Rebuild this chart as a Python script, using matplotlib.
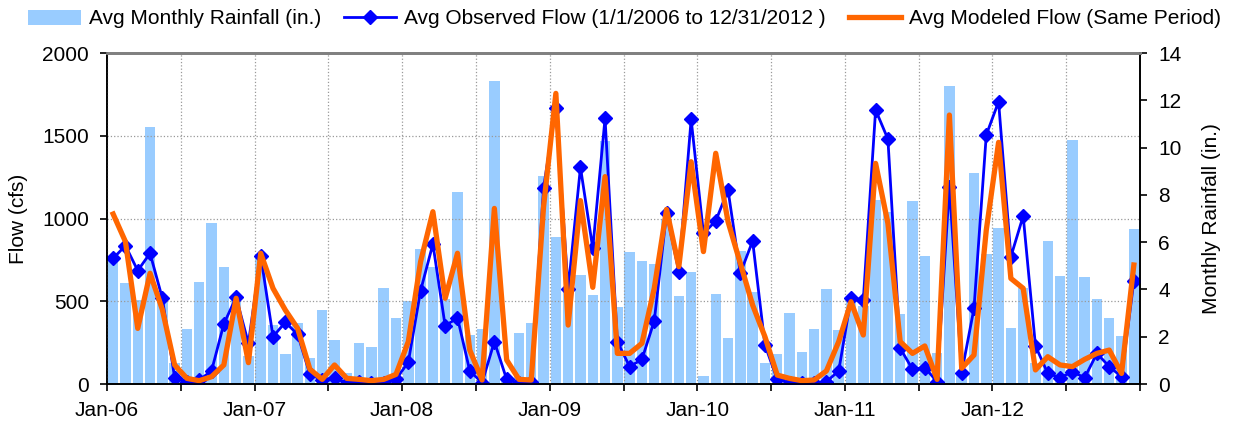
import numpy as np
import matplotlib
matplotlib.use("Agg")
from matplotlib import pyplot as plt

plt.rcParams['font.family'] = ['Liberation Sans', 'DejaVu Sans']

# monthly values, Jan 2006 .. Dec 2012
rain = [5.3, 4.27, 3.55, 10.87, 3.6, 0.9, 2.33, 4.33, 6.8, 4.96, 3.6, 1.2,
        5.45, 2.5, 1.26, 2.6, 1.09, 3.13, 1.86, 0.48, 1.72, 1.57, 4.06, 2.78,
        3.51, 5.7, 4.96, 3.6, 8.1, 2.07, 2.31, 12.82, 0.2, 2.15, 2.58, 8.81,
        6.22, 4.0, 4.6, 3.77, 10.28, 3.27, 5.6, 5.2, 5.08, 7.0, 3.72, 4.72,
        0.34, 3.79, 1.93, 5.64, 3.91, 0.9, 1.26, 3.02, 1.34, 2.31, 4.03, 2.28,
        3.5, 3.3, 7.78, 7.27, 2.96, 7.74, 5.43, 1.33, 12.61, 0.5, 8.91, 5.49,
        6.61, 2.36, 4.05, 0.87, 6.05, 4.57, 10.3, 4.54, 3.6, 2.78, 2.05, 6.57]

observed = [759, 836, 685, 790, 518, 38, 10, 24, 79, 363, 524, 246,
            775, 286, 373, 300, 58, 24, 38, 4, 10, 5, 5, 28,
            132, 564, 846, 350, 401, 79, 8, 256, 28, 4, 14, 1186,
            1666, 574, 1309, 820, 1605, 256, 105, 149, 381, 1031, 679, 1599,
            910, 985, 1172, 669, 864, 236, 28, 8, 8, 4, 14, 79,
            518, 508, 1656, 1480, 216, 89, 99, 14, 1192, 68, 457, 1505,
            1706, 769, 1015, 230, 64, 38, 74, 38, 185, 105, 44, 622]

modeled = [1027, 860, 336, 669, 450, 115, 34, 20, 44, 115, 518, 129,
           790, 578, 447, 336, 89, 28, 115, 34, 28, 20, 28, 58,
           256, 739, 1041, 518, 790, 205, 24, 1061, 145, 28, 24, 1071,
           1756, 356, 1108, 584, 1253, 185, 185, 246, 578, 1055, 709, 1343,
           800, 1394, 981, 729, 477, 286, 54, 34, 20, 24, 79, 256,
           497, 296, 1333, 971, 256, 185, 230, 28, 1625, 95, 175, 930,
           1460, 638, 578, 85, 165, 115, 105, 149, 185, 205, 64, 719]

year_labels = ['Jan-06', 'Jan-07', 'Jan-08', 'Jan-09', 'Jan-10', 'Jan-11', 'Jan-12']
flow_grid = [500, 1000, 1500]

x = np.arange(len(rain)) + 0.5
fs = 15

fig = plt.figure(figsize=(12.35, 4.21), dpi=100)
ax = fig.add_axes([107 / 1235, 37 / 421, 1033 / 1235, 331 / 421])
ax2 = ax.twinx()
ax.set_zorder(ax2.get_zorder() + 1)
ax.patch.set_visible(False)

bars = ax2.bar(x, rain, width=0.85, color='#99CCFF', label='Avg Monthly Rainfall (in.)')
ax2.set_ylim(0, 14)
ax2.set_yticks(np.arange(0, 15, 2))
# flow gridlines sit behind the bars, so put them on the rainfall axis
ax2.set_yticks(np.array(flow_grid) * 14 / 2000, minor=True)
ax2.grid(which='minor', axis='y', ls=':', color='#999999', lw=0.9)
ax2.tick_params(axis='y', which='minor', length=0)
ax2.tick_params(axis='y', which='major', direction='out', length=5, width=1.2,
                pad=8, labelsize=fs)
ax2.set_ylabel('Monthly Rainfall (in.)', fontsize=fs)
ax2.yaxis.set_label_coords(1.0605, 0.5)

obs_line, = ax.plot(x, observed, color='#0000FF', lw=2, marker='D', ms=7,
                    label='Avg Observed Flow (1/1/2006 to 12/31/2012 )')
mod_line, = ax.plot(x, modeled, color='#FF6600', lw=3.8,
                    label='Avg Modeled Flow (Same Period)')

ax.set_xlim(0, len(rain))
ax.set_ylim(0, 2000)
ax.set_yticks(np.arange(0, 2001, 500))
ax.set_xticks(np.arange(0, len(rain) + 1, 12))
ax.set_xticklabels(year_labels + [''])
ax.set_xticks(np.arange(6, len(rain), 12), minor=True)
ax.grid(axis='x', which='both', ls=':', color='#999999', lw=0.9)
ax.tick_params(axis='x', which='both', direction='out', length=5, width=1.2,
               pad=7, labelsize=fs)
ax.tick_params(axis='y', direction='out', length=5, width=1.2, pad=8, labelsize=fs)
ax.set_ylabel('Flow (cfs)', fontsize=fs)
ax.yaxis.set_label_coords(-0.076, 0.5)

for a in (ax, ax2):
    for side in ('left', 'right', 'bottom'):
        a.spines[side].set_color('black')
        a.spines[side].set_linewidth(1.2)
    a.spines['top'].set_color('#808080')
    a.spines['top'].set_linewidth(2)

fig.legend([bars, obs_line, mod_line],
           [bars.get_label(), obs_line.get_label(), mod_line.get_label()],
           loc='center', bbox_to_anchor=(0.506, 1 - 19 / 421), ncol=3,
           frameon=False, fontsize=fs, handlelength=2.5, handletextpad=0.4,
           columnspacing=1.1, borderaxespad=0)

fig.savefig('out.png', dpi=100)
